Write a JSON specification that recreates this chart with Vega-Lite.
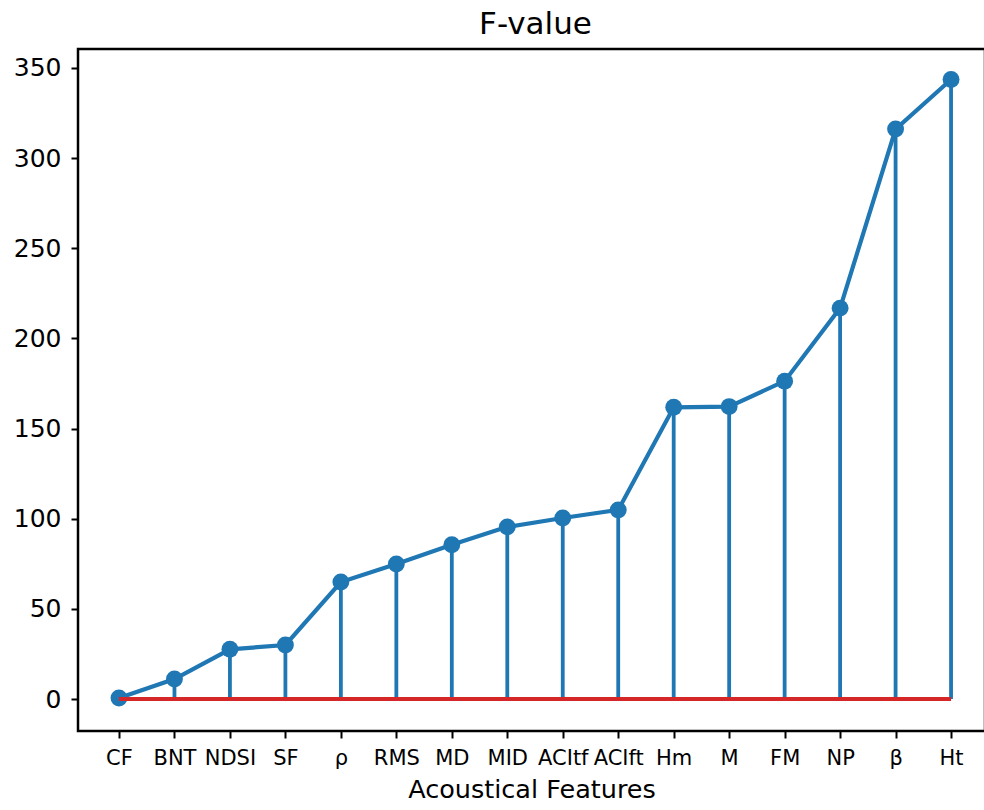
{
  "$schema": "https://vega.github.io/schema/vega-lite/v6.json",
  "autosize": {"type": "none"},
  "width": 907,
  "height": 682,
  "padding": {"left": 78, "top": 49, "right": 0, "bottom": 79},
  "background": "white",
  "config": {
    "view": {"stroke": "black", "strokeWidth": 2.5},
    "font": "DejaVu Sans"
  },
  "title": {
    "text": "F-value",
    "font": "DejaVu Sans",
    "fontSize": 31,
    "fontWeight": "normal",
    "color": "black",
    "dx": 4,
    "offset": 8
  },
  "data": {
    "values": [
      {"feature": "CF", "F": 0.6},
      {"feature": "BNT", "F": 11.1},
      {"feature": "NDSI", "F": 27.6},
      {"feature": "SF", "F": 30.0},
      {"feature": "ρ", "F": 64.9},
      {"feature": "RMS", "F": 74.9},
      {"feature": "MD", "F": 85.6},
      {"feature": "MID", "F": 95.5},
      {"feature": "ACItf", "F": 100.4},
      {"feature": "ACIft", "F": 104.9},
      {"feature": "Hm", "F": 161.8},
      {"feature": "M", "F": 162.2},
      {"feature": "FM", "F": 176.3},
      {"feature": "NP", "F": 216.8},
      {"feature": "β", "F": 316.1},
      {"feature": "Ht", "F": 343.6}
    ]
  },
  "encoding": {
    "x": {
      "field": "feature",
      "type": "nominal",
      "sort": null,
      "scale": {"type": "point", "padding": 0.6755, "align": 0.547},
      "axis": {
        "title": "Acoustical Features",
        "titleFont": "DejaVu Sans",
        "titleFontSize": 25.5,
        "titleFontWeight": "normal",
        "titleColor": "black",
        "titlePadding": 9,
        "titleDx": 5,
        "labelFont": "DejaVu Sans",
        "labelFontSize": 21,
        "labelColor": "black",
        "labelAngle": 0,
        "labelPadding": 9,
        "tickSize": 7,
        "tickWidth": 2,
        "tickColor": "black",
        "domain": false,
        "grid": false
      }
    },
    "y": {
      "type": "quantitative",
      "scale": {"domain": [-17.7, 360.5], "nice": false, "zero": false},
      "axis": {
        "title": null,
        "values": [0, 50, 100, 150, 200, 250, 300, 350],
        "labelFont": "DejaVu Sans",
        "labelFontSize": 25,
        "labelColor": "black",
        "labelPadding": 10,
        "tickSize": 7,
        "tickWidth": 2,
        "tickColor": "black",
        "domain": false,
        "grid": false
      }
    }
  },
  "layer": [
    {
      "mark": {"type": "rule", "color": "#1f77b4", "strokeWidth": 3.8},
      "encoding": {
        "y": {"field": "F", "type": "quantitative"},
        "y2": {"datum": 0}
      }
    },
    {
      "mark": {"type": "line", "color": "#1f77b4", "strokeWidth": 4.2},
      "encoding": {
        "y": {"field": "F", "type": "quantitative"},
        "order": {"value": null}
      }
    },
    {
      "mark": {"type": "circle", "color": "#1f77b4", "opacity": 1, "size": 285},
      "encoding": {
        "y": {"field": "F", "type": "quantitative"}
      }
    },
    {
      "mark": {"type": "line", "color": "#d62728", "strokeWidth": 4},
      "encoding": {
        "y": {"datum": 0},
        "order": {"value": null}
      }
    }
  ]
}
